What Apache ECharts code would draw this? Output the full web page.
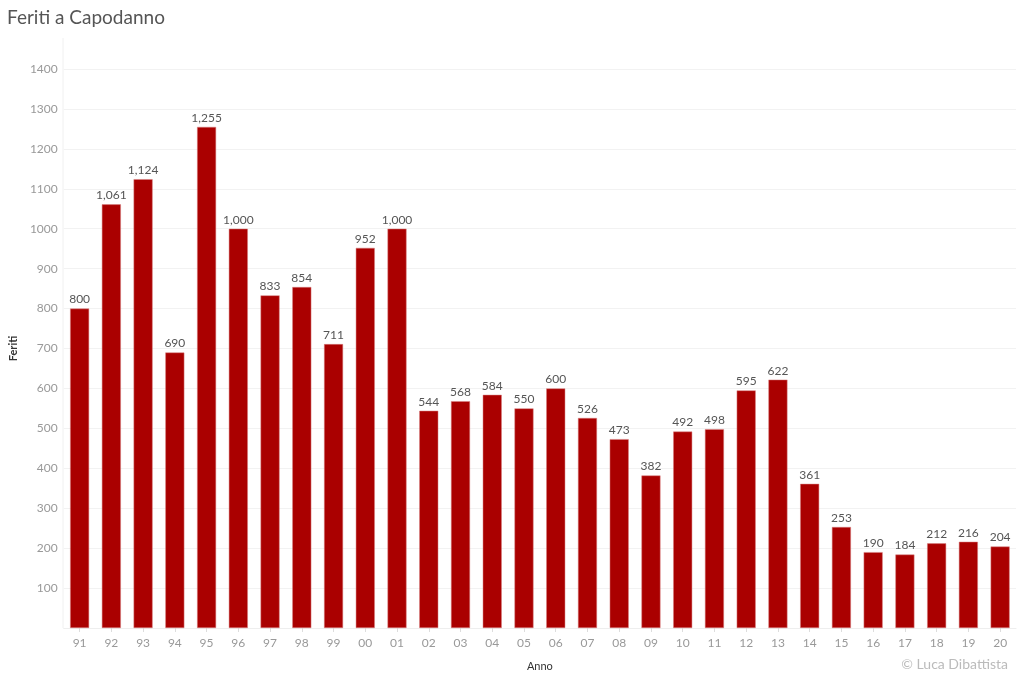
<!DOCTYPE html>
<html>
<head>
<meta charset="utf-8">
<title>Feriti a Capodanno</title>
<script src="https://cdn.jsdelivr.net/npm/echarts@6/dist/echarts.min.js"></script>
<style>
  html, body { margin: 0; padding: 0; background: #fff; }
  #chart { width: 1024px; height: 680px; }
</style>
</head>
<body>
<div id="chart"></div>
<script>
// anni (ultime due cifre)
const anni = ['91','92','93','94','95','96','97','98','99','00','01','02','03','04','05',
  '06','07','08','09','10','11','12','13','14','15','16','17','18','19','20']
// feriti per anno
const feriti = [800,1061,1124,690,1255,1000,833,854,711,952,1000,544,568,584,550,
  600,526,473,382,492,498,595,622,361,253,190,184,212,216,204]
const yTicks = { min: 0, max: 1400, step: 100 }

const chart = echarts.init(document.getElementById('chart'))

chart.setOption({
  animation: false,
  textStyle: { fontFamily: 'Lato, "Open Sans", sans-serif' },
  title: {
    text: 'Feriti a Capodanno',
    left: 2,
    top: 3,
    textStyle: { fontSize: 19, fontWeight: 'normal', color: '#555', fontFamily: 'Lato, sans-serif' }
  },
  grid: { left: 61, right: 8, top: 69, bottom: 52, containLabel: false },
  xAxis: {
    type: 'category',
    data: anni,
    name: 'Anno',
    nameLocation: 'middle',
    nameGap: 33,
    nameTextStyle: { fontSize: 11, color: '#333' },
    axisLine: { show: true, lineStyle: { color: '#eee' } },
    axisTick: { show: true, alignWithLabel: true, length: 4, lineStyle: { color: '#ddd' } },
    axisLabel: { color: '#999', fontSize: 12, margin: 9 }
  },
  yAxis: {
    type: 'value',
    min: yTicks.min,
    max: yTicks.max,
    interval: yTicks.step,
    name: 'Feriti',
    nameLocation: 'middle',
    nameGap: 43,
    nameTextStyle: { fontSize: 11, color: '#333', fontWeight: 'bold' },
    axisLine: { show: false },
    axisTick: { show: false },
    axisLabel: {
      color: '#999',
      fontSize: 12,
      margin: 6,
      formatter: v => v === 0 ? '' : String(v)
    },
    splitLine: { show: true, lineStyle: { color: '#f2f2f2' } }
  },
  series: [{
    type: 'bar',
    data: feriti,
    barWidth: 19,
    itemStyle: { color: '#aa0000', borderColor: '#d98080', borderWidth: 0.5 },
    label: {
      show: true,
      position: 'top',
      distance: 3,
      color: '#555',
      fontSize: 12,
      formatter: p => p.value.toLocaleString('en-US')
    }
  }],
  graphic: [{
    type: 'text',
    right: 16,
    top: 657,
    style: { text: '© Luca Dibattista', fill: '#bbb', fontSize: 14, fontFamily: 'Lato, sans-serif' }
  }, {
    type: 'line',
    shape: { x1: 63, y1: 38, x2: 63, y2: 628 },
    style: { stroke: '#f0f0f0', lineWidth: 1 }
  }]
})
</script>
</body>
</html>
